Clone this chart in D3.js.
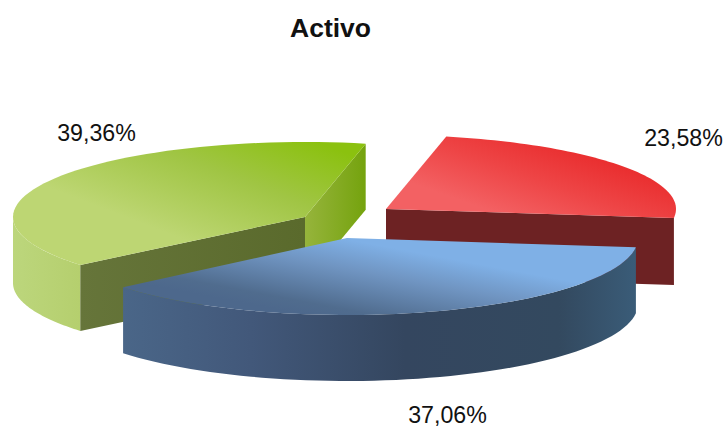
<!DOCTYPE html>
<html><head><meta charset="utf-8">
<script src="https://cdn.jsdelivr.net/npm/d3@7"></script>
<style>html,body{margin:0;padding:0;background:#fff}svg{display:block}text{font-family:"Liberation Sans",Arial,sans-serif;fill:#111}</style>
</head><body><div id="c"></div>
<script>
const title = "Activo";
const categories = ["Rojo", "Azul", "Verde"];
const values = [23.58, 37.06, 39.36];
const valueLabels = ["23,58%", "37,06%", "39,36%"];

const W = 728, H = 427, rot = 12 * Math.PI / 180;
const rxs = [290, 291, 292], rys = [74, 77, 75];
const centers = [[386, 209, 67], [347, 238, 66], [305, 217, 66]];
const labelPos = [[683.5, 146], [447.5, 423], [96.5, 141]];
const svg = d3.select("#c").append("svg").attr("width", W).attr("height", H);
const defs = svg.append("defs");

function grad(id, x1, y1, x2, y2, stops) {
  const g = defs.append("linearGradient").attr("id", id).attr("gradientUnits", "userSpaceOnUse")
    .attr("x1", x1).attr("y1", y1).attr("x2", x2).attr("y2", y2);
  stops.forEach(s => g.append("stop").attr("offset", s[0]).attr("stop-color", s[1]));
  return `url(#${id})`;
}
const fills = [
  { top: grad("rt", 560, 140, 530, 225, [[0, "#e92c2d"], [0.5, "#ee4546"], [1, "#f36163"]]),
    face: "#6d2223" },
  { top: grad("bt", 350, 240, 335, 320, [[0, "#7fb0e6"], [0.35, "#7095c2"], [0.85, "#506c8e"], [1, "#4d688c"]]),
    wall: grad("bw", 123, 0, 636, 0, [[0, "#4a6688"], [0.25, "#42587a"], [0.55, "#34465f"], [0.85, "#33495f"], [1, "#3a5c78"]]) },
  { top: grad("gt", 300, 135, 250, 265, [[0, "#8bc10f"], [0.45, "#a0c544"], [1, "#bdd673"]]),
    wall: grad("gw", 13, 0, 80, 0, [[0, "#bcd67c"], [1, "#b5cf6e"]]),
    faceA: grad("gfa", 80, 0, 305, 0, [[0, "#66753a"], [1, "#5a6a2c"]]),
    faceB: grad("gfb", 305, 0, 365, 0, [[0, "#96b43c"], [1, "#75a30e"]]) }
];

const arcs = d3.pie().sort(null).startAngle(rot).endAngle(rot + 2 * Math.PI)(values);

const pt = (i, a, dz = 0) => [centers[i][0] + rxs[i] * Math.sin(a), centers[i][1] - rys[i] * Math.cos(a) + dz];
const arcPts = (i, a0, a1, dz = 0) => d3.range(0, 61).map(k => pt(i, a0 + (a1 - a0) * k / 60, dz));
const line = d3.line();
const shape = pts => line(pts) + "Z";

function topFace(i) {
  const d = arcs[i];
  return shape([[centers[i][0], centers[i][1]], ...arcPts(i, d.startAngle, d.endAngle)]);
}
function radial(i, a) {
  const c = centers[i], p = pt(i, a), h = c[2];
  return shape([[c[0], c[1]], p, [p[0], p[1] + h], [c[0], c[1] + h]]);
}
function wall(i, a0, a1) {
  const h = centers[i][2];
  return shape([...arcPts(i, a0, a1), ...arcPts(i, a1, a0, h)]);
}

// green
const g = svg.append("g");
g.append("path").attr("d", wall(2, arcs[2].startAngle, 1.5 * Math.PI)).attr("fill", fills[2].wall);
g.append("path").attr("d", radial(2, arcs[2].endAngle)).attr("fill", fills[2].faceB);
g.append("path").attr("d", radial(2, arcs[2].startAngle)).attr("fill", fills[2].faceA);
g.append("path").attr("d", topFace(2)).attr("fill", fills[2].top);
// red
const r = svg.append("g");
r.append("path").attr("d", radial(0, arcs[0].endAngle)).attr("fill", fills[0].face);
r.append("path").attr("d", topFace(0)).attr("fill", fills[0].top);
// blue
const b = svg.append("g");
b.append("path").attr("d", wall(1, arcs[1].startAngle, arcs[1].endAngle)).attr("fill", fills[1].wall);
b.append("path").attr("d", topFace(1)).attr("fill", fills[1].top);

svg.append("text").attr("x", 330.5).attr("y", 37).attr("text-anchor", "middle")
  .attr("font-size", 26.5).attr("font-weight", "bold").text(title);
svg.selectAll("text.v").data(valueLabels).join("text").attr("class", "v")
  .attr("x", (d, i) => labelPos[i][0]).attr("y", (d, i) => labelPos[i][1])
  .attr("text-anchor", "middle").attr("font-size", 23.2).text(d => d);
</script></body></html>
